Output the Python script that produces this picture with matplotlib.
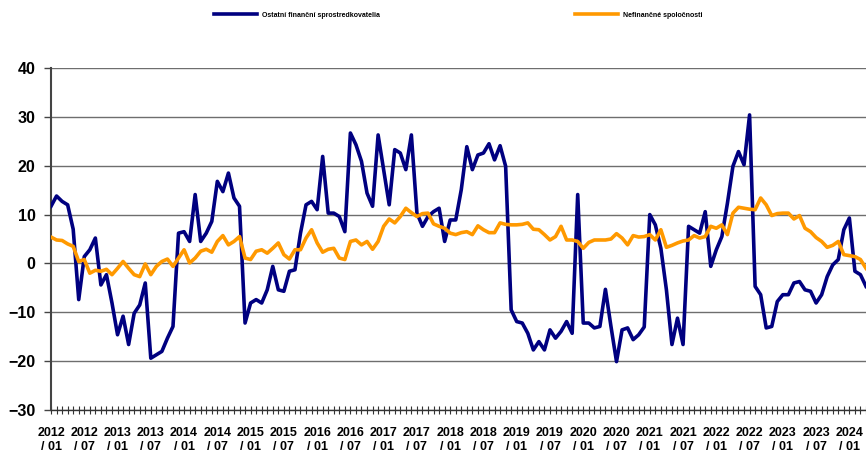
import numpy as np
import matplotlib
matplotlib.use("Agg")
import matplotlib.pyplot as plt
from matplotlib.ticker import MultipleLocator

# monthly data 2012/01 .. 2024/04
ostatni = [11.7, 13.8, 12.7, 12.0, 7.0, -7.4, 1.4, 2.8, 5.2, -4.4, -2.3, -8.1,
           -14.6, -10.8, -16.6, -10.2, -8.5, -4.0, -19.4, -18.7, -18.0, -15.3, -12.9, 6.2,
           6.5, 4.5, 14.1, 4.5, 6.2, 8.6, 16.8, 14.7, 18.5, 13.4, 11.7, -12.2,
           -8.1, -7.4, -8.1, -5.4, -0.6, -5.4, -5.7, -1.6, -1.3, 6.2, 12.0, 12.7,
           11.0, 21.9, 10.3, 10.3, 9.6, 6.5, 26.7, 24.3, 20.9, 14.4, 11.7, 26.3,
           19.2, 12.0, 23.3, 22.6, 19.2, 26.3, 10.3, 7.6, 9.6, 10.6, 11.3, 4.5,
           8.9, 8.9, 15.1, 23.9, 19.2, 22.2, 22.6, 24.5, 21.2, 24.1, 19.9, -9.5,
           -11.9, -12.2, -14.3, -17.7, -16.0, -17.7, -13.6, -15.3, -13.9, -11.9, -14.3, 14.1,
           -12.2, -12.2, -13.2, -12.9, -5.3, -12.9, -20.1, -13.6, -13.2, -15.6, -14.6, -13.0,
           10.0, 7.9, 3.1, -5.4, -16.6, -11.2, -16.6, 7.6, 6.9, 6.2, 10.6, -0.6,
           2.8, 5.5, 12.3, 19.9, 22.9, 20.2, 30.4, -4.7, -6.4, -13.2, -12.9, -7.8,
           -6.4, -6.4, -4.0, -3.7, -5.4, -5.7, -8.1, -6.4, -2.7, -0.3, 0.8, 6.9,
           9.3, -1.6, -2.3, -4.7]

nefinancne = [5.4, 4.8, 4.7, 4.0, 3.5, 0.4, 0.8, -2.0, -1.4, -1.6, -1.2, -2.3,
              -1.0, 0.4, -1.0, -2.3, -2.7, -0.1, -2.3, -0.6, 0.4, 0.9, -0.6, 1.1,
              2.8, 0.1, 1.1, 2.5, 2.9, 2.3, 4.5, 5.7, 3.8, 4.5, 5.5, 1.1,
              0.8, 2.5, 2.8, 2.1, 3.1, 4.2, 1.8, 0.9, 2.8, 2.8, 5.2, 6.9,
              4.2, 2.3, 2.9, 3.1, 1.1, 0.8, 4.5, 4.8, 3.8, 4.5, 2.9, 4.5,
              7.6, 9.1, 8.3, 9.6, 11.3, 10.4, 9.6, 10.2, 10.3, 8.1, 7.6, 7.2,
              6.2, 5.9, 6.3, 6.5, 5.9, 7.7, 6.9, 6.3, 6.3, 8.3, 8.0, 7.9,
              7.9, 8.0, 8.3, 7.0, 6.9, 5.9, 4.8, 5.5, 7.6, 4.8, 4.8, 4.5,
              3.1, 4.3, 4.8, 4.8, 4.8, 5.0, 6.1, 5.2, 3.8, 5.7, 5.4, 5.5,
              5.9, 4.8, 6.9, 3.3, 3.7, 4.2, 4.6, 4.8, 5.7, 5.2, 5.5, 7.6,
              7.2, 7.9, 5.9, 10.3, 11.5, 11.3, 11.1, 11.0, 13.4, 12.0, 9.8, 10.2,
              10.3, 10.3, 9.1, 9.8, 7.2, 6.5, 5.3, 4.5, 3.3, 3.7, 4.5, 1.8,
              1.6, 1.4, 0.8, -1.0]

tick_labels = ["2012\n/ 01", "2012\n/ 07", "2013\n/ 01", "2013\n/ 07", "2014\n/ 01",
               "2014\n/ 07", "2015\n/ 01", "2015\n/ 07", "2016\n/ 01", "2016\n/ 07",
               "2017\n/ 01", "2017\n/ 07", "2018\n/ 01", "2018\n/ 07", "2019\n/ 01",
               "2019\n/ 07", "2020\n/ 01", "2020\n/ 07", "2021\n/ 01", "2021\n/ 07",
               "2022\n/ 01", "2022\n/ 07", "2023\n/ 01", "2023\n/ 07", "2024\n/ 01"]

plt.rcParams['font.family'] = ['Liberation Sans', 'DejaVu Sans']

fig = plt.figure(figsize=(8.66, 4.55), dpi=100)
ax = fig.add_axes([0.0589, 0.0989, 0.9411, 0.7516])

x = np.arange(len(ostatni))
ax.plot(x, ostatni, color='#000080', lw=2.6, solid_joinstyle='round',
        label='Ostatní finanční sprostredkovatelia', zorder=3)
ax.plot(x, nefinancne, color='#FF9900', lw=2.6, solid_joinstyle='round',
        label='Nefinančné spoločnosti', zorder=4)

ax.set_xlim(0, len(ostatni) - 1)
ax.set_ylim(-30, 40)
ax.set_yticks(range(-30, 41, 10))
ax.yaxis.grid(True, color='#6e6e6e', lw=1.0)
ax.set_axisbelow(True)

ax.set_xticks(np.arange(0, 6 * len(tick_labels), 6))
ax.set_xticklabels(tick_labels, fontsize=9, fontweight='bold', linespacing=1.3)
ax.xaxis.set_minor_locator(MultipleLocator(1))
ax.tick_params(axis='x', which='both', direction='inout', length=6, width=0.8,
               color='#333333', pad=9)
ax.tick_params(axis='y', direction='out', length=5, width=1, color='#444444', pad=6)
for lab in ax.get_yticklabels():
    lab.set_fontsize(11.5)
    lab.set_fontweight('bold')

for s in ['top', 'right']:
    ax.spines[s].set_visible(False)
ax.spines['left'].set_color('#444444')
ax.spines['left'].set_linewidth(1.5)
ax.spines['bottom'].set_color('#333333')
ax.spines['bottom'].set_linewidth(1.0)

fig.legend(loc='center', bbox_to_anchor=(0.529, 0.967), ncol=2, frameon=False,
           prop={'size': 5, 'weight': 'bold'}, handlelength=6.2, handletextpad=0.7,
           columnspacing=28.2)

fig.savefig('out.png', dpi=100)
